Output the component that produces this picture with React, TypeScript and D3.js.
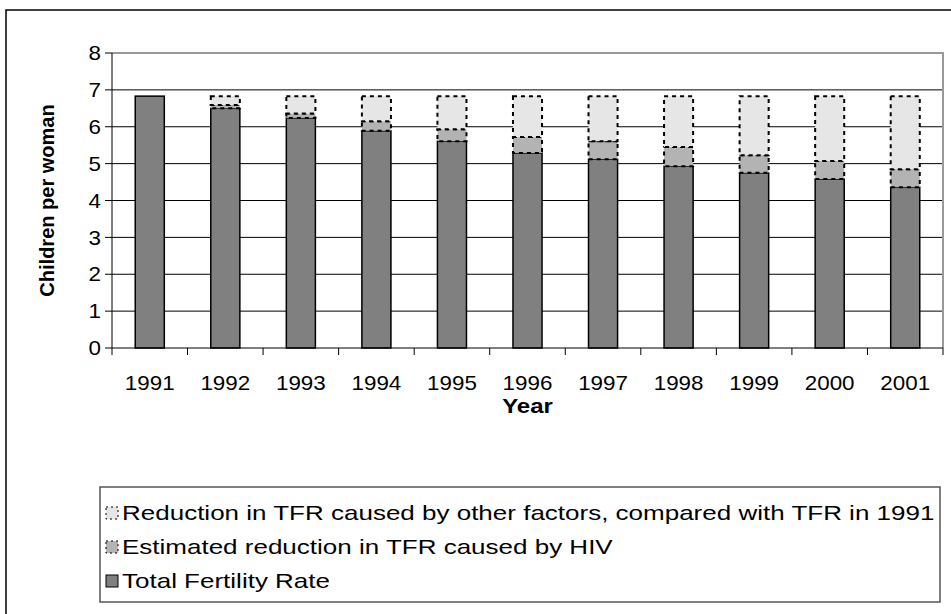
import React from 'react';
import * as d3 from 'd3';

const years = ['1991', '1992', '1993', '1994', '1995', '1996', '1997', '1998', '1999', '2000', '2001'];
const tfr = [6.83, 6.5, 6.24, 5.89, 5.61, 5.29, 5.12, 4.93, 4.75, 4.58, 4.36];
const hivReduction = [0, 0.09, 0.12, 0.26, 0.32, 0.43, 0.49, 0.52, 0.48, 0.49, 0.49];
const otherReduction = [0, 0.24, 0.47, 0.68, 0.9, 1.11, 1.22, 1.38, 1.6, 1.76, 1.98];
const yTicks = [0, 1, 2, 3, 4, 5, 6, 7, 8];

const seriesKeys = ['tfr', 'hiv', 'other'];
const seriesNames: Record<string, string> = {
  other: 'Reduction in TFR caused by other factors, compared with TFR in 1991',
  hiv: 'Estimated reduction in TFR caused by HIV',
  tfr: 'Total Fertility Rate',
};
const fills: Record<string, string> = { tfr: '#808080', hiv: '#b3b3b3', other: '#e6e6e6' };

const width = 951;
const height = 614;
const plot = { left: 112, right: 943, top: 53, bottom: 348 };
const font = '"Liberation Sans", Arial, sans-serif';
// the source picture is stretched sideways, so horizontal text gets wider glyphs
const tickStretch = 1.12;
const titleStretch = 1.2;
const legendStretch = 1.3;

const App: React.FC = () => {
  const rows = years.map((y, i) => ({ year: y, tfr: tfr[i], hiv: hivReduction[i], other: otherReduction[i] }));
  const stacked = d3.stack<any>().keys(seriesKeys)(rows);

  const x = d3.scaleBand().domain(years).range([plot.left, plot.right]).paddingInner(0).paddingOuter(0);
  const y = d3.scaleLinear().domain([0, 8]).range([plot.bottom, plot.top]);
  const barW = x.bandwidth() / 2.6;

  const legendItems = ['other', 'hiv', 'tfr'];
  const legend = { x: 100, y: 487, w: 840, h: 115 };

  return (
    <svg width={width} height={height} style={{ position: 'absolute', left: 0, top: 0, fontFamily: font }}>
      <rect x={0} y={0} width={width} height={height} fill="#fff" />
      <rect x={6} y={10} width={width + 20} height={height + 20} fill="none" stroke="#000" strokeWidth={1.5} />

      {/* gridlines */}
      {yTicks.slice(1, -1).map((t) => (
        <line key={t} x1={plot.left} x2={plot.right} y1={y(t)} y2={y(t)} stroke="#000" strokeWidth={1} />
      ))}
      <polyline
        points={`${plot.left},${y(8)} ${plot.right},${y(8)} ${plot.right},${plot.bottom}`}
        fill="none"
        stroke="#999"
        strokeWidth={2}
      />

      {/* bars */}
      {stacked.map((s) =>
        s.map((d, i) => {
          const h = y(d[0]) - y(d[1]);
          if (h <= 0) return null;
          const key = s.key;
          return (
            <rect
              key={key + i}
              x={(x(years[i]) as number) + (x.bandwidth() - barW) / 2}
              y={y(d[1])}
              width={barW}
              height={h}
              fill={fills[key]}
              stroke="#000"
              strokeWidth={key === 'tfr' ? 1.5 : 2}
              strokeDasharray={key === 'tfr' ? undefined : '4,4'}
            />
          );
        })
      )}

      {/* y axis */}
      <line x1={plot.left} x2={plot.left} y1={plot.top} y2={plot.bottom} stroke="#000" strokeWidth={1} />
      {yTicks.map((t) => (
        <g key={t}>
          <line x1={plot.left - 7} x2={plot.left} y1={y(t)} y2={y(t)} stroke="#000" />
          <text
            transform={`translate(${plot.left - 11}, ${y(t)}) scale(${tickStretch}, 1)`}
            dy="0.36em"
            textAnchor="end"
            fontSize={20}
          >
            {t}
          </text>
        </g>
      ))}

      {/* x axis */}
      <line x1={plot.left} x2={plot.right} y1={plot.bottom} y2={plot.bottom} stroke="#000" strokeWidth={1} />
      {years.map((yr) => (
        <g key={yr}>
          <line x1={x(yr)} x2={x(yr)} y1={plot.bottom} y2={plot.bottom + 7} stroke="#000" />
          <text
            transform={`translate(${(x(yr) as number) + x.bandwidth() / 2}, ${plot.bottom + 42}) scale(${tickStretch}, 1)`}
            textAnchor="middle"
            fontSize={20}
          >
            {yr}
          </text>
        </g>
      ))}
      <line x1={plot.right} x2={plot.right} y1={plot.bottom} y2={plot.bottom + 7} stroke="#000" />

      <text
        transform={`translate(${(plot.left + plot.right) / 2}, 413) scale(${titleStretch}, 1)`}
        textAnchor="middle"
        fontSize={20}
        fontWeight="bold"
      >
        Year
      </text>
      <text
        transform={`translate(54, ${(plot.top + plot.bottom) / 2}) rotate(-90)`}
        textAnchor="middle"
        fontSize={20}
        fontWeight="bold"
      >
        Children per woman
      </text>

      {/* legend */}
      <rect x={legend.x} y={legend.y} width={legend.w} height={legend.h} fill="#fff" stroke="#555" strokeWidth={1.5} />
      {legendItems.map((k, i) => {
        const cy = legend.y + 26 + i * 34;
        return (
          <g key={k}>
            <rect
              x={legend.x + 6}
              y={cy - 6}
              width={12}
              height={12}
              fill={fills[k]}
              stroke="#000"
              strokeWidth={1}
              strokeDasharray={k === 'tfr' ? undefined : '2,3'}
            />
            <text
              transform={`translate(${legend.x + 22}, ${cy}) scale(${legendStretch}, 1)`}
              dy="0.36em"
              fontSize={20}
            >
              {seriesNames[k]}
            </text>
          </g>
        );
      })}
    </svg>
  );
};

export default App;
